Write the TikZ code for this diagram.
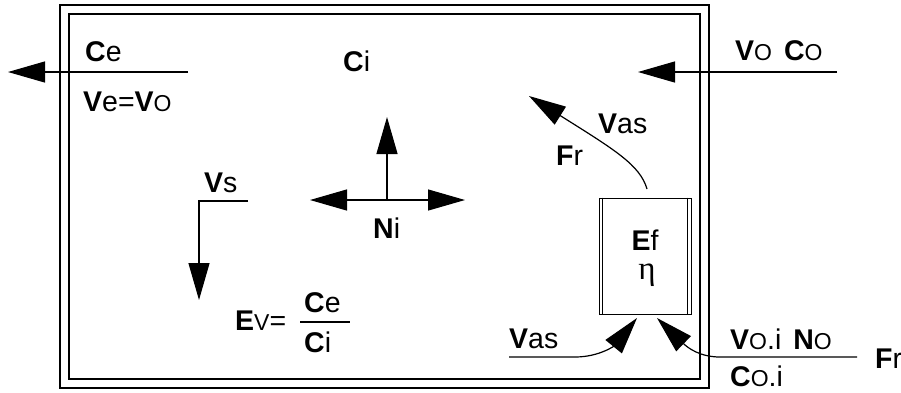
\documentclass[tikz,border=0pt]{standalone}
\usepackage{fontspec}
\setmainfont{Liberation Sans}
\newfontfamily\grfont{Liberation Serif}
\usetikzlibrary{arrows.meta}
\newcommand{\smO}{{\fontsize{23bp}{23bp}\selectfont O}}
\newcommand{\smV}{{\fontsize{23bp}{23bp}\selectfont V}}
\begin{document}
\begin{tikzpicture}[x=1bp,y=-1bp,
  lbl/.style={inner sep=0pt, anchor=base west, font=\fontsize{28.5bp}{30bp}\selectfont},
  arr/.style={line width=1.2bp, -{Triangle[length=37bp,width=21bp]}},
  darr/.style={line width=1.2bp, {Triangle[length=37bp,width=21bp]}-{Triangle[length=37bp,width=21bp]}},
  frame/.style={line width=1.2bp},
  thin frame/.style={line width=1bp}]
\useasboundingbox (0,0) rectangle (901,392);
% container walls
\draw[frame] (60,5) rectangle (709,388);
\draw[frame] (69,14) rectangle (700,379);
% filter unit
\node[thin frame, draw, minimum width=92bp, minimum height=116bp, inner sep=0pt] (box) at (645,256) {};
\draw[thin frame] ([xshift=4bp]box.north west) -- ([xshift=4bp]box.south west);
\draw[thin frame] ([xshift=-4bp]box.north east) -- ([xshift=-4bp]box.south east);
\node[lbl, anchor=base] (ef) at (645,250) {\textbf{E}f};
\node[lbl, anchor=base, font=\fontsize{33bp}{34bp}\selectfont] (eta) at (647,279) {\grfont η};
% coordinates
\coordinate (ceS) at (188,72);
\coordinate (ceT) at (8,72);
\coordinate (voS) at (837,72);
\coordinate (voT) at (638,72);
\coordinate (nc) at (387,200);
\coordinate (nUp) at (387,117);
\coordinate (nL) at (310,200);
\coordinate (nR) at (465,200);
\coordinate (vsS) at (248,201);
\coordinate (vsK) at (199,201);
\coordinate (vsT) at (199,300);
\coordinate (vasS) at (647,189);
\coordinate (vasT) at (529,96);
\coordinate (blS) at (509,357);
\coordinate (blK) at (575,357);
\coordinate (blT) at (637,318);
\coordinate (brS) at (857,357);
\coordinate (brK) at (720,357);
\coordinate (brT) at (657,318);
\coordinate (fracL) at (300,322);
\coordinate (fracR) at (350,322);
% arrows
\draw[arr] (ceS) -- (ceT);
\draw[arr] (voS) -- (voT);
\draw[arr] (nc) -- (nUp);
\draw[darr] (nL) -- (nR);
\draw[arr] (vsS) -- (vsK) -- (vsT);
\draw[arr] (vasS) .. controls (640,165) and (615,150) .. (vasT);
\draw[arr] (blS) -- (blK) .. controls (600,357) and (615,345) .. (blT);
\draw[arr] (brS) -- (brK) .. controls (700,357) and (688,348) .. (brT);
\draw[frame] (fracL) -- (fracR);
% labels
\node[lbl] (ce) at (85,61) {\textbf{C}e};
\node[lbl] (ve) at (83,111) {\textbf{V}e=\textbf{V}\smO};
\node[lbl] (ci) at (343,71) {\textbf{C}i};
\node[lbl] (voco) at (735,60) {\textbf{V}\smO\hspace{12bp}\textbf{C}\smO};
\node[lbl] (vas1) at (598,133) {\textbf{V}as};
\node[lbl] (fr1) at (556,165) {\textbf{F}r};
\node[lbl] (vs) at (204,192) {\textbf{V}s};
\node[lbl] (ni) at (373,238) {\textbf{N}i};
\node[lbl] (ev) at (235,330) {\textbf{E}\smV=};
\node[lbl] (fce) at (304,312) {\textbf{C}e};
\node[lbl] (fci) at (304,352) {\textbf{C}i};
\node[lbl] (vas2) at (509,348) {\textbf{V}as};
\node[lbl] (voi) at (730,349) {\textbf{V}\smO.i\hspace{12bp}\textbf{N}\smO};
\node[lbl] (coi) at (730,386) {\textbf{C}\smO.i};
\node[lbl] (fr2) at (875,368) {\textbf{F}r};
\end{tikzpicture}
\end{document}
